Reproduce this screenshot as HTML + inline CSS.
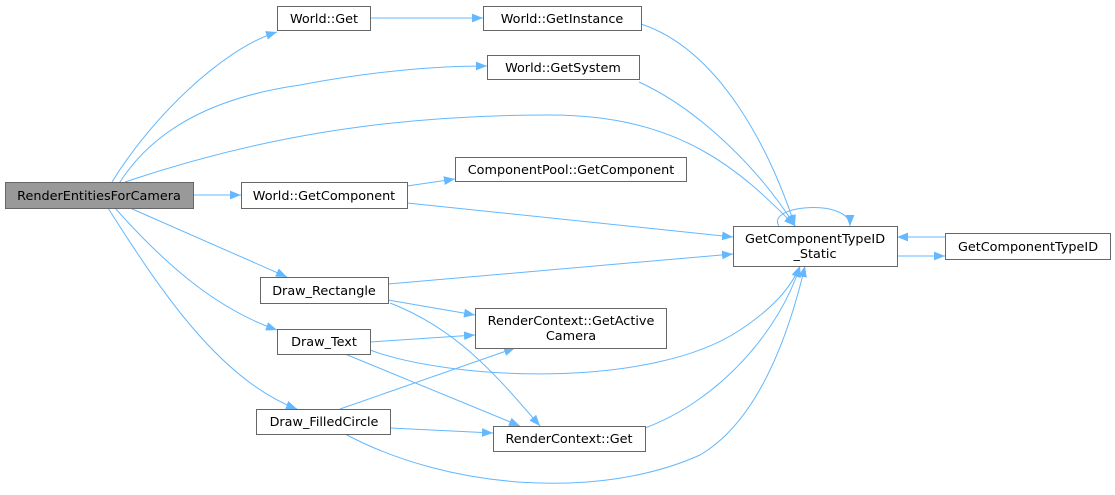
<!DOCTYPE html>
<html><head><meta charset="utf-8"><style>
html,body{margin:0;padding:0;background:#fff;}
svg{display:block;}
text{font-family:"DejaVu Sans","Liberation Sans",sans-serif;font-size:12.8px;fill:#000;}
.e{fill:none;stroke:#63b8ff;stroke-width:1;}
.n{fill:#fff;stroke:#666;stroke-width:1;}
</style></head><body>
<svg width="1115" height="495" viewBox="0 0 1115 495" xmlns="http://www.w3.org/2000/svg">
<defs><marker id="a" viewBox="0 0 10 10" refX="10" refY="5" markerWidth="11" markerHeight="11" markerUnits="userSpaceOnUse" orient="auto"><path d="M0,1 L10,5 L0,9 z" fill="#63b8ff"/></marker></defs>
<g marker-end="url(#a)">
<path class="e" d="M112,182 C150,120 220,50 277,32"/>
<path class="e" d="M370,18 L483,18"/>
<path class="e" d="M120,182 C160,120 230,95 300,85 C380,70 440,66 487,66"/>
<path class="e" d="M125,182 C250,140 380,115 550,115 C680,115 740,170 795,226"/>
<path class="e" d="M193,195 L241,195"/>
<path class="e" d="M407,186 L455,179"/>
<path class="e" d="M407,203 L733,237"/>
<path class="e" d="M641,24 C720,50 770,150 795,226"/>
<path class="e" d="M639,82 C700,110 760,170 795,226"/>
<path class="e" d="M779,226 C765,205 850,198 850,226"/>
<path class="e" d="M897,256 L945,256"/>
<path class="e" d="M945,237 L897,237"/>
<path class="e" d="M130,208 L287,277"/>
<path class="e" d="M115,208 C170,270 220,310 277,330"/>
<path class="e" d="M108,208 C160,290 220,380 297,409"/>
<path class="e" d="M388,284 L733,254"/>
<path class="e" d="M388,300 L475,315"/>
<path class="e" d="M390,303 C460,330 500,380 540,426"/>
<path class="e" d="M370,342 L475,335"/>
<path class="e" d="M370,350 C450,380 650,390 740,330 C770,310 790,290 800,266"/>
<path class="e" d="M345,354 L520,426"/>
<path class="e" d="M340,409 L515,348"/>
<path class="e" d="M390,428 L493,433"/>
<path class="e" d="M345,434 C450,490 600,500 700,455 C760,420 790,330 805,266"/>
<path class="e" d="M645,428 C720,400 780,330 800,266"/>
</g>
<rect x="5.5" y="182.5" width="188" height="26" fill="#999" stroke="#666"/>
<text x="99" y="200" text-anchor="middle">RenderEntitiesForCamera</text>
<rect class="n" x="277.5" y="6.5" width="93" height="24"/><text x="324" y="23" text-anchor="middle">World::Get</text>
<rect class="n" x="483.5" y="6.5" width="158" height="24"/><text x="562" y="23" text-anchor="middle">World::GetInstance</text>
<rect class="n" x="487.5" y="55.5" width="152" height="24"/><text x="563" y="72" text-anchor="middle">World::GetSystem</text>
<rect class="n" x="455.5" y="157.5" width="231" height="24"/><text x="571" y="174" text-anchor="middle">ComponentPool::GetComponent</text>
<rect class="n" x="241.5" y="182.5" width="166" height="26"/><text x="324" y="200" text-anchor="middle">World::GetComponent</text>
<rect class="n" x="733.5" y="226.5" width="164" height="40"/><text x="815" y="243" text-anchor="middle">GetComponentTypeID</text><text x="815" y="258" text-anchor="middle">_Static</text>
<rect class="n" x="945.5" y="233.5" width="165" height="26"/><text x="1028" y="251" text-anchor="middle">GetComponentTypeID</text>
<rect class="n" x="260.5" y="277.5" width="128" height="26"/><text x="324" y="295" text-anchor="middle">Draw_Rectangle</text>
<rect class="n" x="475.5" y="308.5" width="191" height="40"/><text x="571" y="325" text-anchor="middle">RenderContext::GetActive</text><text x="571" y="340" text-anchor="middle">Camera</text>
<rect class="n" x="277.5" y="329.5" width="93" height="25"/><text x="324" y="346" text-anchor="middle">Draw_Text</text>
<rect class="n" x="256.5" y="409.5" width="134" height="25"/><text x="324" y="426" text-anchor="middle">Draw_FilledCircle</text>
<rect class="n" x="493.5" y="426.5" width="152" height="25"/><text x="569" y="443" text-anchor="middle">RenderContext::Get</text>
</svg>
</body></html>
